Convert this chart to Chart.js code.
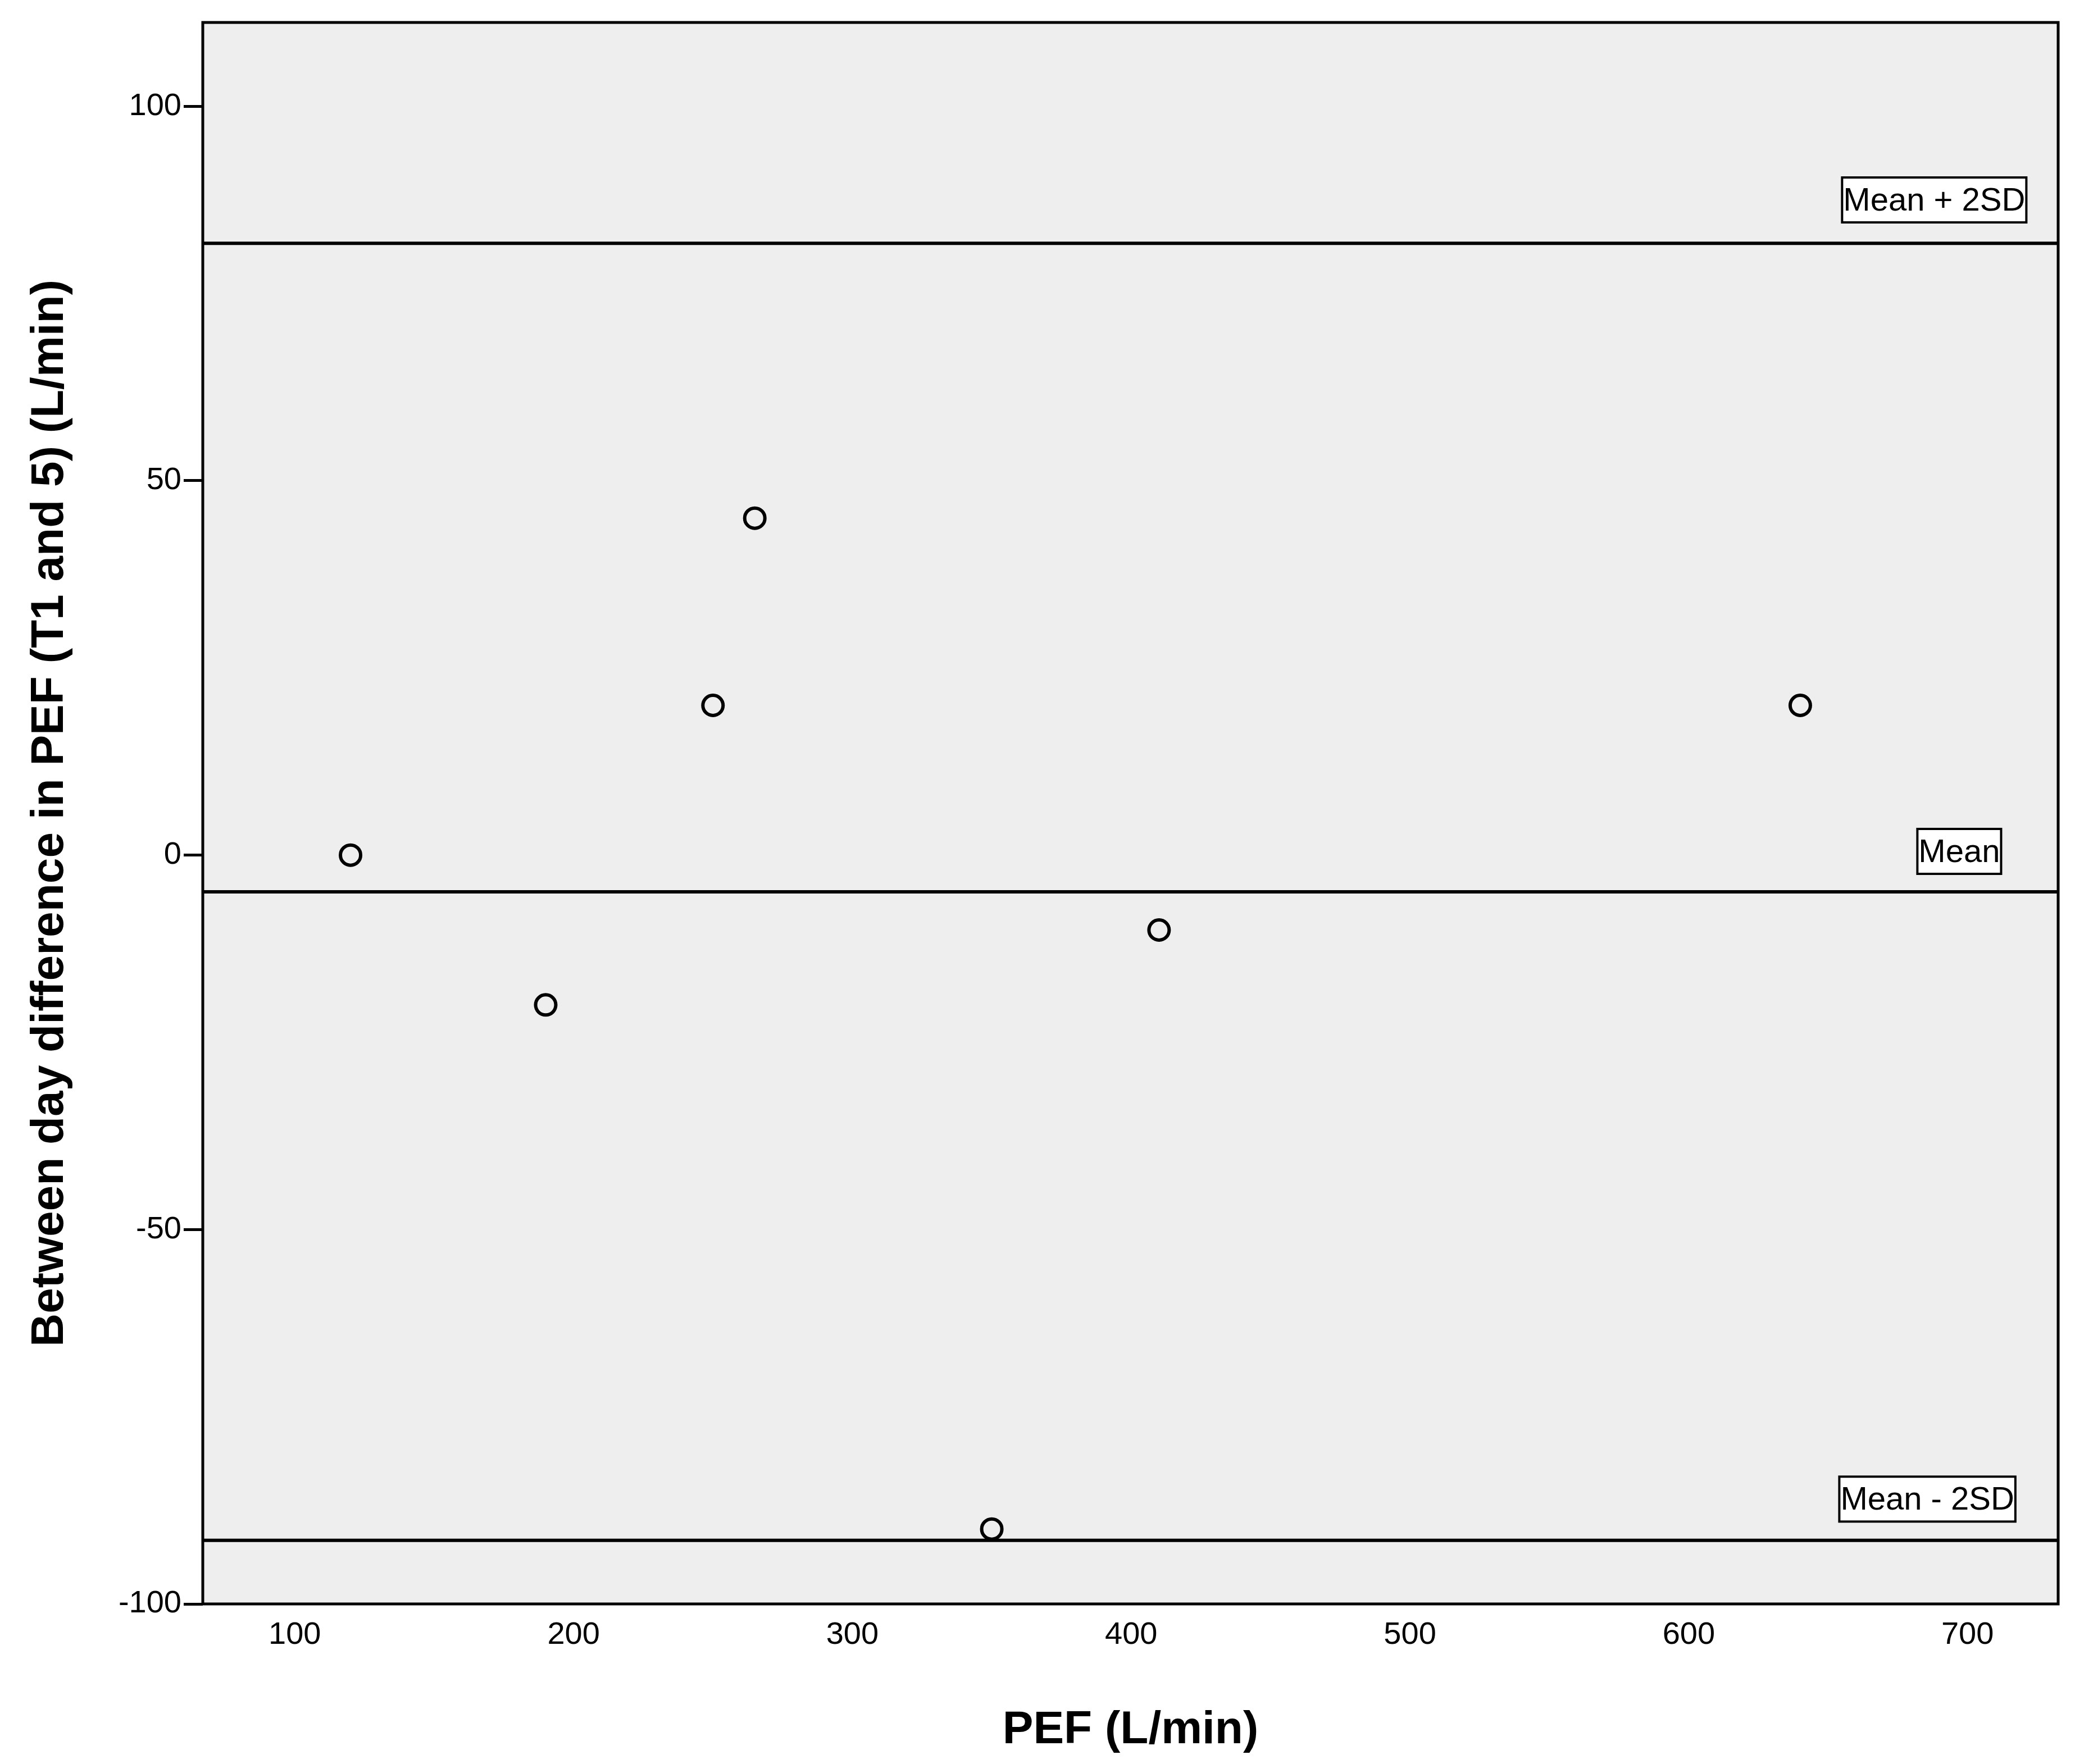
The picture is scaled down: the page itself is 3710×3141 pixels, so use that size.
<!DOCTYPE html>
<html><head><meta charset="utf-8">
<script src="https://cdn.jsdelivr.net/npm/chart.js@4/dist/chart.umd.min.js"></script>
<style>html,body{margin:0;padding:0;background:#fff}#wrap{width:3710px;height:3141px}</style>
</head><body><div id="wrap"><canvas id="c"></canvas></div>
<script>
const pefValues = [120, 190, 250, 265, 350, 410, 640];
const diffValues = [0, -20, 20, 45, -90, -10, 20];
const refNames = ["Mean + 2SD", "Mean", "Mean - 2SD"];
const refValues = [81.7, -4.9, -91.5];
const refLabelX = [655, 682, 654];
const refLabelY = [87.5, 0.5, -86];
const xMin = 67, xMax = 732.5, yMin = -100, yMax = 111.2;

const refDatasets = refValues.map(v => ({
	type: "line", data: [{x: xMin, y: v}, {x: xMax, y: v}],
	borderColor: "#000", borderWidth: 6, pointRadius: 0, showLine: true
}));

const bgAndLabels = {
	id: "bgAndLabels",
	beforeDraw(chart) {
		const {ctx, chartArea: a} = chart;
		ctx.save();
		ctx.fillStyle = "#eeeeee";
		ctx.fillRect(a.left, a.top, a.right - a.left, a.bottom - a.top);
		ctx.restore();
	},
	afterDraw(chart) {
		const {ctx, chartArea: a, scales} = chart;
		ctx.save();
		ctx.font = "58px Arial, 'Liberation Sans'";
		ctx.textBaseline = "middle";
		refNames.forEach((n, i) => {
			const x = scales.x.getPixelForValue(refLabelX[i]);
			const y = scales.y.getPixelForValue(refLabelY[i]);
			const w = ctx.measureText(n).width;
			ctx.fillStyle = "#fff";
			ctx.fillRect(x, y - 40, w + 4, 80);
			ctx.strokeStyle = "#000"; ctx.lineWidth = 4;
			ctx.strokeRect(x, y - 40, w + 4, 80);
			ctx.fillStyle = "#000";
			ctx.fillText(n, x + 2, y + 3);
		});
		ctx.strokeStyle = "#000"; ctx.lineWidth = 5;
		ctx.strokeRect(a.left, a.top, a.right - a.left, a.bottom - a.top);
		ctx.restore();
	}
};

new Chart(document.getElementById("c"), {
	type: "scatter",
	data: {
		datasets: [{
			data: pefValues.map((x, i) => ({x: x, y: diffValues[i]})),
			pointStyle: "circle", pointRadius: 18, pointBorderWidth: 6,
			pointBorderColor: "#000", pointBackgroundColor: "rgba(0,0,0,0)"
		}, ...refDatasets]
	},
	options: {
		responsive: true, maintainAspectRatio: false, animation: false,
		layout: {padding: {top: 40, right: 46, bottom: 10, left: 40}},
		plugins: {legend: {display: false}, tooltip: {enabled: false}},
		scales: {
			x: {
				type: "linear", min: xMin, max: xMax,
				afterBuildTicks(s) { s.ticks = [100,200,300,400,500,600,700].map(v => ({value: v})); },
				grid: {drawOnChartArea: false, drawTicks: true, tickLength: 0, color: "#000"},
				border: {display: false},
				ticks: {color: "#000", font: {size: 56, family: "Arial, 'Liberation Sans'"}, padding: 22, maxRotation: 0},
				title: {display: true, text: "PEF (L/min)", color: "#000", font: {size: 82, weight: "bold", family: "Arial, 'Liberation Sans'"}, padding: {top: 60, bottom: 0}},
				afterFit(s) { s.height = 275; }
			},
			y: {
				min: yMin, max: yMax,
				afterBuildTicks(s) { s.ticks = [-100,-50,0,50,100].map(v => ({value: v})); },
				grid: {drawOnChartArea: false, drawTicks: true, tickLength: 34, color: "#000", lineWidth: 5},
				border: {display: false},
				ticks: {color: "#000", font: {size: 56, family: "Arial, 'Liberation Sans'"}, padding: 4},
				title: {display: true, text: "Between day difference in PEF (T1 and 5) (L/min)", color: "#000", font: {size: 82, weight: "bold", family: "Arial, 'Liberation Sans'"}, padding: {top: 0, bottom: 40}},
				afterFit(s) { s.width = 321; }
			}
		}
	},
	plugins: [bgAndLabels]
});
</script></body></html>
